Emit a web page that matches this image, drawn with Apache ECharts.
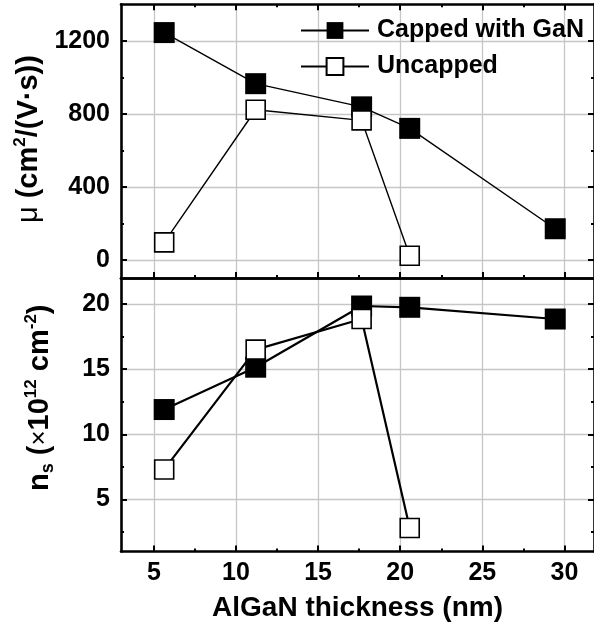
<!DOCTYPE html>
<html>
<head>
<meta charset="utf-8">
<script src="https://cdn.jsdelivr.net/npm/echarts@6/dist/echarts.min.js"></script>
<style>
html,body{margin:0;padding:0;background:#fff;}
#c{width:594px;height:625px;}
</style>
</head>
<body>
<div id="c"></div>
<script>
// ---- data ----
const thickness = [5.63, 11.2, 17.65, 20.58, 29.44];
const muCapped = [1245, 965, 838, 720, 170];
const muUncapped = [95, 822, 764, 22];
const nsCapped = [11.9, 15.15, 19.85, 19.75, 18.85];
const nsUncapped = [7.3, 16.5, 18.85, 2.8];
const xTicks = [5, 10, 15, 20, 25, 30];
const xMinorTicks = [7.5, 12.5, 17.5, 22.5, 27.5];
const muTicks = [0, 400, 800, 1200];
const muMinorTicks = [200, 600, 1000];
const nsTicks = [5, 10, 15, 20];
const nsMinorTicks = [2.5, 7.5, 12.5, 17.5];
const seriesNames = ['Capped with GaN', 'Uncapped'];

const FONT = '"Liberation Sans", Arial, sans-serif';
const X_MIN = 3, X_MAX = 31.8;
const MU_MIN = -100, MU_MAX = 1400;
const NS_MIN = 1, NS_MAX = 22;

const chart = echarts.init(document.getElementById('c'), null, {renderer: 'canvas'});

const pair = (xs, ys) => ys.map((y, i) => [xs[i], y]);

const gridTop = {left: 121, top: 4.3, width: 474.3, height: 273.7};
const gridBot = {left: 121, top: 278, width: 474.3, height: 273.5};

const frameLine = {show: true, onZero: false, lineStyle: {color: '#000', width: 2.6}};
const noLine = {show: false, onZero: false};
const gridSplit = {show: true, lineStyle: {color: '#c6c6c6', width: 1.3}};

function majorTick(vals, show) {
  return {show: show !== false, inside: true, length: 6, lineStyle: {color: '#000', width: 2}, customValues: vals};
}
function minorTick(vals) {
  return {show: true, inside: true, length: 3, lineStyle: {color: '#000', width: 2}, customValues: vals};
}
const tickLabel = (vals, margin) => ({
  show: true, customValues: vals, margin: margin,
  formatter: v => String(v),
  color: '#000', fontFamily: FONT, fontWeight: 'bold', fontSize: 25
});

function xAx(gridIndex, position, extra) {
  return Object.assign({
    type: 'value', gridIndex, position, min: X_MIN, max: X_MAX,
    axisLine: noLine, axisTick: {show: false}, axisLabel: {show: false}, splitLine: {show: false}
  }, extra);
}
function yAx(gridIndex, position, min, max, extra) {
  return Object.assign({
    type: 'value', gridIndex, position, min, max,
    axisLine: noLine, axisTick: {show: false}, axisLabel: {show: false}, splitLine: {show: false}
  }, extra);
}

const option = {
  backgroundColor: '#fff',
  animation: false,
  grid: [
    Object.assign({}, gridTop),
    Object.assign({}, gridBot),
    Object.assign({}, gridTop),
    Object.assign({}, gridBot)
  ],
  xAxis: [
    xAx(0, 'bottom', {axisLine: frameLine, axisTick: majorTick(xTicks), splitLine: gridSplit}),
    xAx(0, 'top', {axisLine: frameLine, axisTick: majorTick(xTicks)}),
    xAx(1, 'bottom', {
      axisLine: frameLine, axisTick: majorTick(xTicks), splitLine: gridSplit,
      axisLabel: tickLabel(xTicks, 9),
      name: 'AlGaN thickness (nm)', nameLocation: 'middle', nameGap: 43,
      nameTextStyle: {color: '#000', fontFamily: FONT, fontWeight: 'bold', fontSize: 28}
    }),
    xAx(1, 'top', {axisLine: frameLine}),
    xAx(2, 'bottom', {axisTick: minorTick(xMinorTicks)}),
    xAx(2, 'top', {axisTick: minorTick(xMinorTicks)}),
    xAx(3, 'bottom', {axisTick: minorTick(xMinorTicks)}),
    xAx(3, 'top', {show: false})
  ],
  yAxis: [
    yAx(0, 'left', MU_MIN, MU_MAX, {
      axisLine: frameLine, axisTick: majorTick(muTicks), splitLine: gridSplit,
      axisLabel: tickLabel(muTicks, 11),
      name: '{mu|μ}{b| (cm}{sup|2}{b|/(V·s))}', nameLocation: 'middle', nameGap: 74,
      nameTextStyle: {
        padding: [0, 0, 0, 4],
        rich: {
          b: {fontFamily: FONT, fontWeight: 'bold', fontSize: 29, color: '#000', lineHeight: 34},
          mu: {fontFamily: FONT, fontWeight: 'normal', fontSize: 29, color: '#000', lineHeight: 34},
          sup: {fontFamily: FONT, fontWeight: 'bold', fontSize: 17, color: '#000', lineHeight: 17, verticalAlign: 'top'}
        }
      }
    }),
    yAx(0, 'right', MU_MIN, MU_MAX, {axisLine: frameLine, axisTick: majorTick(muTicks)}),
    yAx(1, 'left', NS_MIN, NS_MAX, {
      axisLine: frameLine, axisTick: majorTick(nsTicks), splitLine: gridSplit,
      axisLabel: tickLabel(nsTicks, 11),
      name: '{b|n}{sub|s}{b| (}{x|×}{b|10}{sup|12}{b| cm}{sup|-2}{b|)}', nameLocation: 'middle', nameGap: 64,
      nameTextStyle: {
        padding: [0, 0, 0, 34],
        rich: {
          b: {fontFamily: FONT, fontWeight: 'bold', fontSize: 29, color: '#000', lineHeight: 34},
          x: {fontFamily: FONT, fontWeight: 'normal', fontSize: 26, color: '#000', lineHeight: 34},
          sup: {fontFamily: FONT, fontWeight: 'bold', fontSize: 17, color: '#000', lineHeight: 17, verticalAlign: 'top'},
          sub: {fontFamily: FONT, fontWeight: 'bold', fontSize: 18, color: '#000', lineHeight: 16, verticalAlign: 'bottom'}
        }
      }
    }),
    yAx(1, 'right', NS_MIN, NS_MAX, {axisLine: frameLine, axisTick: majorTick(nsTicks)}),
    yAx(2, 'left', MU_MIN, MU_MAX, {axisTick: minorTick(muMinorTicks)}),
    yAx(2, 'right', MU_MIN, MU_MAX, {axisTick: minorTick(muMinorTicks)}),
    yAx(3, 'left', NS_MIN, NS_MAX, {axisTick: minorTick(nsMinorTicks)}),
    yAx(3, 'right', NS_MIN, NS_MAX, {axisTick: minorTick(nsMinorTicks)})
  ],
  legend: {
    data: seriesNames,
    orient: 'vertical',
    left: 300, top: 18, padding: 0,
    itemWidth: 68, itemHeight: 21, itemGap: 11,
    textStyle: {color: '#000', fontFamily: FONT, fontWeight: 'bold', fontSize: 25, padding: [0, 0, 0, 3]},
    lineStyle: {width: 2}
  },
  series: [
    {
      name: seriesNames[0], type: 'line', xAxisIndex: 0, yAxisIndex: 0,
      data: pair(thickness, muCapped),
      symbol: 'rect', symbolSize: 21,
      lineStyle: {color: '#000', width: 1.4},
      itemStyle: {color: '#000', borderColor: '#000', borderWidth: 0}
    },
    {
      name: seriesNames[1], type: 'line', xAxisIndex: 0, yAxisIndex: 0,
      data: pair(thickness, muUncapped),
      symbol: 'rect', symbolSize: 19,
      lineStyle: {color: '#000', width: 1.4},
      itemStyle: {color: '#fff', borderColor: '#000', borderWidth: 1.6}
    },
    {
      name: seriesNames[0], type: 'line', xAxisIndex: 2, yAxisIndex: 2,
      data: pair(thickness, nsCapped),
      symbol: 'rect', symbolSize: 21,
      lineStyle: {color: '#000', width: 2.2},
      itemStyle: {color: '#000', borderColor: '#000', borderWidth: 0}
    },
    {
      name: seriesNames[1], type: 'line', xAxisIndex: 2, yAxisIndex: 2,
      data: pair(thickness, nsUncapped),
      symbol: 'rect', symbolSize: 19,
      lineStyle: {color: '#000', width: 2.2},
      itemStyle: {color: '#fff', borderColor: '#000', borderWidth: 1.6}
    }
  ]
};
chart.setOption(option);
</script>
</body>
</html>
